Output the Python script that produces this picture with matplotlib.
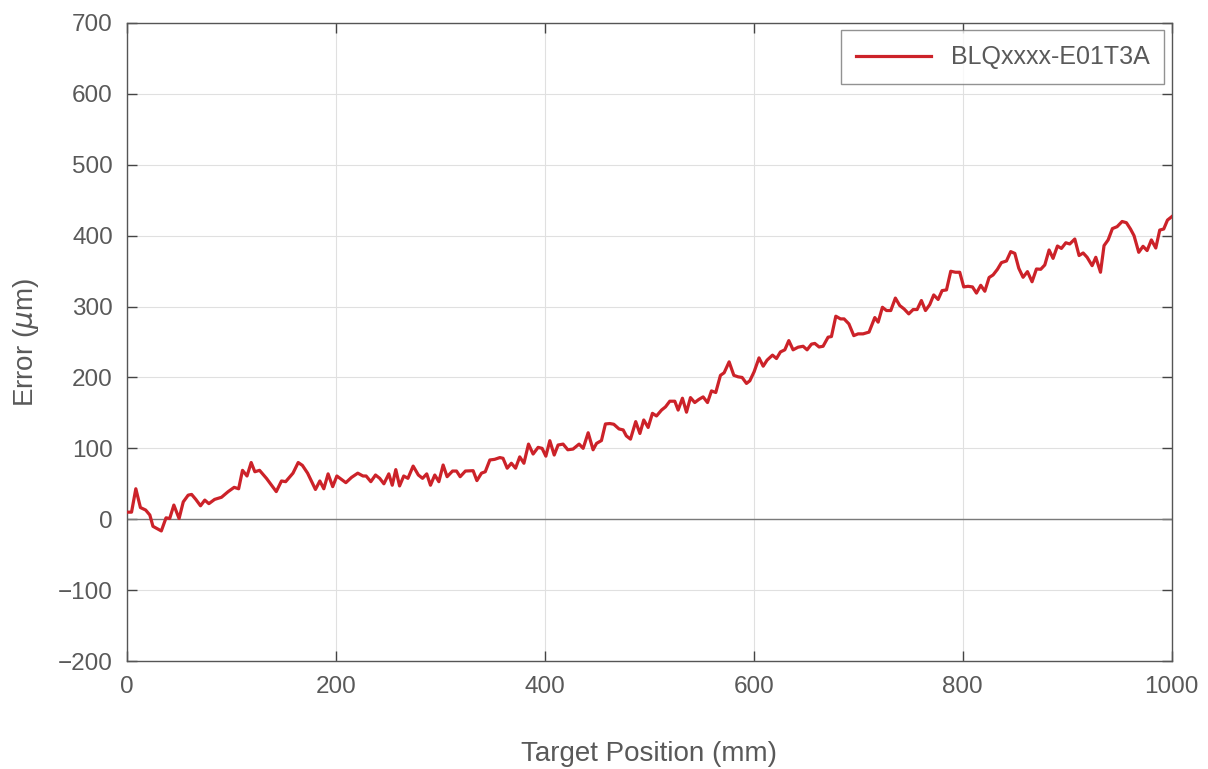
import matplotlib
matplotlib.use("Agg")
import matplotlib.pyplot as plt

plt.rcParams['font.family'] = ['Liberation Sans', 'DejaVu Sans']
plt.rcParams['mathtext.fontset'] = 'dejavusans'

# target position (mm) and error (um)
pos = [0, 4.5, 8.6, 13, 18, 22, 25, 33, 37.5, 41, 45, 50, 54, 58.7, 62, 66, 70.5, 74.6, 78.5,
       84, 90.6, 97, 102.7, 107, 110.7, 115, 119, 122.5, 127, 133.7, 143, 148, 152, 159, 164,
       168, 173, 180.5, 184.7, 188.5, 192.6, 197, 201, 204, 209.6, 215, 221, 226, 229, 233.5,
       238, 242, 246, 250.7, 254, 257.4, 261, 265, 269, 274, 279, 283, 287, 290.6, 294.7,
       298.6, 302.7, 306.5, 311.7, 315.5, 319, 324, 331.4, 335, 339.4, 343, 347.4, 352, 357,
       360, 364, 368, 372, 376, 380, 384.4, 388.8, 393.6, 397.4, 401, 404.8, 409, 412.7,
       417.5, 422, 427, 432.8, 436.7, 441.5, 446.2, 449.5, 454.2, 458, 462.2, 466, 471, 475,
       478, 482, 487, 491, 494.7, 498.9, 503, 506.9, 511.7, 515.5, 519.6, 524.4, 527.6,
       531.7, 535.6, 539.4, 543.5, 547.4, 551.5, 555.7, 559.5, 563.6, 568.1, 571.6, 576.4,
       580.9, 585, 588.8, 593, 596.2, 600.3, 605, 609, 612.7, 617.9, 621.7, 625.5, 629.7,
       633.5, 637.6, 642.4, 647.2, 651, 655.2, 658.4, 662.5, 666.3, 671.1, 674.3, 678.5,
       683, 686.4, 691, 695.7, 699.8, 704.6, 710.3, 715.8, 719, 723.1, 727, 731.1, 735.5,
       739.7, 743.8, 748.3, 752.5, 756.3, 760.4, 764.3, 768.4, 772.2, 776.4, 780.2, 784.4,
       788.5, 793, 797.1, 800.9, 805, 809.3, 813.1, 817.2, 821.1, 825.2, 829, 833.2, 837,
       841.8, 845.9, 849.8, 853.6, 857.7, 861.9, 866.3, 870.5, 874.6, 878.5, 882.6, 886.4,
       890.6, 894.4, 898.6, 902.4, 907.2, 911.3, 915.2, 919, 923.8, 927.3, 931.8, 935.2,
       939.1, 943.2, 947.7, 952.5, 956.6, 960.5, 963.9, 968.4, 972.5, 976.4, 980.5, 984.7,
       988.5, 992.3, 995.9, 1000]
err = [10, 10, 43, 16.5, 13, 6, -10, -16.5, 2, 1, 20, 1, 24.5, 34, 35, 28, 19, 27, 22,
       28, 31, 39, 45, 43, 69, 61, 80, 67, 69, 57.5, 39, 54, 53, 65, 80,
       76, 65, 42, 54, 43, 64, 46, 61, 57.7, 51.6, 59, 65, 61, 61, 53,
       62.4, 57.7, 50, 64, 48, 70, 47, 61, 57.7, 75, 62.4, 57.7, 64, 48, 62.4,
       53, 76.5, 60, 68, 68, 60, 68, 68.5, 54.5, 65, 67, 83.6, 84.5, 87,
       86, 72, 79, 72, 88, 79, 106, 92, 101.4, 100, 89, 110.8, 90.6, 104.7,
       106, 98, 99, 106, 100, 122, 98, 107, 111, 134.4, 135, 134, 127.4, 126,
       117.6, 113, 137.7, 121, 140, 129.5, 149.4, 145.7, 154, 158.5, 166.5, 166.5, 154,
       170.7, 151, 171.6, 164.6, 169, 172.6, 164.6, 181, 178.8, 203, 206.6, 222,
       203, 200.9, 200, 191.6, 195.3, 208, 227.6, 215.9, 224.4, 231.5, 226.7, 236, 239,
       252, 239, 242.7, 244, 239, 247, 248, 243, 244, 256.8, 257.7, 286.4,
       282.6, 282.6, 275.6, 259, 261.5, 261.5, 264, 284.5, 278, 299, 294.4, 294.4, 312,
       301.4, 296.7, 289.7, 295.8, 295.8, 308.5, 294.4, 302.8, 316.4, 310, 322.5, 323.5,
       349.8, 348.4, 348.4, 327.7, 328.6, 327.7, 319, 330, 321.6, 341, 344.6, 352.6, 362,
       364.3, 377.5, 375, 354, 341.3, 349.3, 335, 353, 352.6, 358.7, 379.8, 368,
       385.4, 382, 390, 388.3, 395.3, 372, 375.6, 369.5, 357.7, 369.5, 348.4, 386,
       394, 410, 412.7, 420, 418.3, 409.4, 400, 376.5, 385, 379, 394, 382.6,
       407.9, 409.4, 422, 426.8]

label = 'BLQxxxx-E01T3A'
text_col = '#595959'

fig = plt.figure(figsize=(12.08, 7.69), dpi=100)
ax = fig.add_axes([0.105, 0.1404, 0.865, 0.8297])

ax.grid(True, color='#e0e0e0', linewidth=0.8)
ax.set_axisbelow(True)
ax.axhline(0, color='#7a7a7a', linewidth=1.0, zorder=1)
ax.plot(pos, err, color='#cc2229', linewidth=2.3, label=label, zorder=3)

ax.set_xlim(0, 1000)
ax.set_ylim(-200, 700)
ax.set_xticks(range(0, 1001, 200))
ax.set_yticks(range(-200, 701, 100))
ax.set_yticklabels(['\u2212200', '\u2212100'] + [str(v) for v in range(0, 701, 100)])

ax.tick_params(direction='in', length=7, width=1, top=True, right=True,
               labelsize=17.5, colors='#444444', labelcolor=text_col)
ax.tick_params(axis='y', pad=10)
ax.tick_params(axis='x', pad=11)
for s in ax.spines.values():
    s.set_color('#555555')
    s.set_linewidth(1.0)

ax.set_xlabel('Target Position (mm)', fontsize=20, color=text_col, labelpad=31)
ax.set_ylabel('Error ($\\mu$m)', fontsize=20, color=text_col, labelpad=12)

leg = ax.legend(loc='upper right', fontsize=18, frameon=True, fancybox=False,
                edgecolor='#777777', borderpad=0.6, handlelength=3.0, handletextpad=0.8,
                borderaxespad=0.3)
leg.get_frame().set_linewidth(1.0)
for t in leg.get_texts():
    t.set_color(text_col)

fig.savefig('out.png', dpi=100, facecolor='white')
